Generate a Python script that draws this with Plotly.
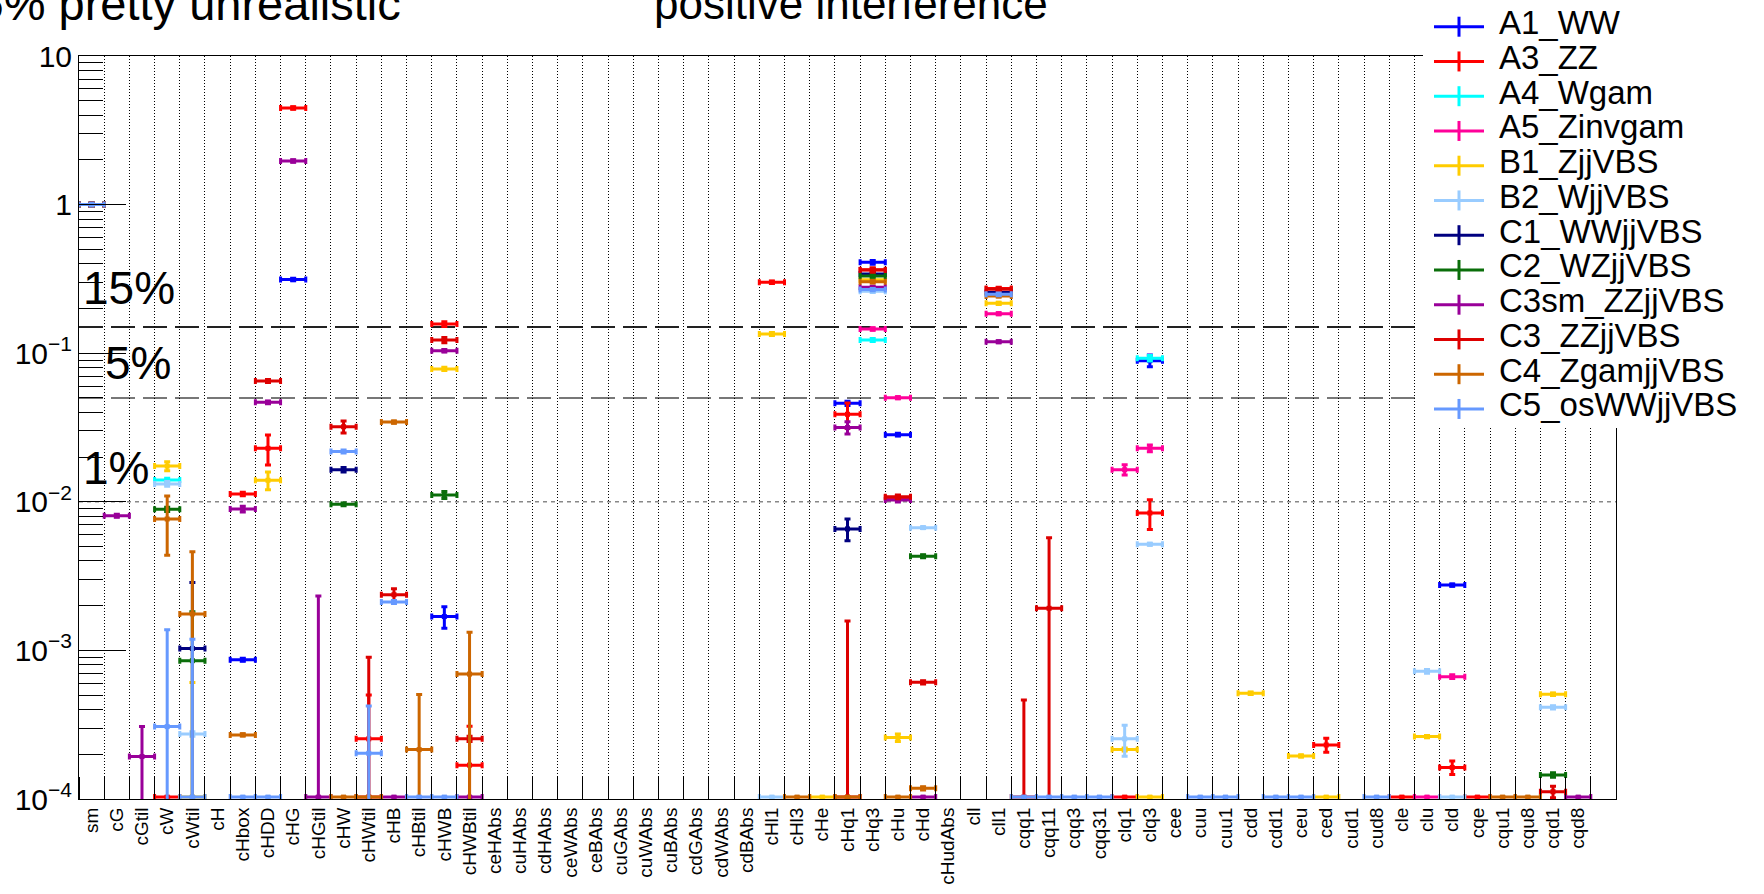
import plotly.graph_objects as go

# ---------------- data ----------------
categories = ["sm", "cG", "cGtil", "cW", "cWtil", "cH", "cHbox", "cHDD", "cHG", "cHGtil",
              "cHW", "cHWtil", "cHB", "cHBtil", "cHWB", "cHWBtil", "ceHAbs", "cuHAbs", "cdHAbs",
              "ceWAbs", "ceBAbs", "cuGAbs", "cuWAbs", "cuBAbs", "cdGAbs", "cdWAbs", "cdBAbs",
              "cHl1", "cHl3", "cHe", "cHq1", "cHq3", "cHu", "cHd", "cHudAbs", "cll", "cll1",
              "cqq1", "cqq11", "cqq3", "cqq31", "clq1", "clq3", "cee", "cuu", "cuu1", "cdd",
              "cdd1", "ceu", "ced", "cud1", "cud8", "cle", "clu", "cld", "cqe", "cqu1", "cqu8",
              "cqd1", "cqd8"]

y_tick_vals = [1e-4, 1e-3, 1e-2, 1e-1, 1, 10]
y_tick_text = ["10<sup>\u22124</sup>", "10<sup>\u22123</sup>", "10<sup>\u22122</sup>",
               "10<sup>\u22121</sup>", "1", "10"]

# value 0 means "zero / below range" (drawn on the lower edge); err is the symmetric y error
A1_WW_cats = ["sm", "cHbox", "cHG", "cHWB", "cHq1", "cHq3", "cHu", "clq3", "cld"]
A1_WW_vals = [1.0, 8.66e-4, 0.313, 1.69e-3, 0.0460, 0.409, 0.0283, 0.0891, 2.75e-3]
A1_WW_errs = [0.02, 2e-5, 0.006, 2.8e-4, 0.0015, 0.012, 0.0006, 0.008, 5e-5]

A3_ZZ_cats = ["sm", "cW", "cHbox", "cHDD", "cHG", "cHWtil", "cHWB", "cHWBtil", "cHl1", "cHq1",
              "cHq3", "cHu", "cll1", "clq1", "clq3", "ced", "cle", "cld", "cqe"]
A3_ZZ_vals = [1.0, 0, 0.01129, 0.0229, 4.47, 2.54e-4, 0.157, 1.69e-4, 0.300, 0.0388,
              0.365, 0.0107, 0.272, 0, 8.41e-3, 2.31e-4, 0, 1.63e-4, 0]
A3_ZZ_errs = [0.02, 0, 3e-4, 0.0052, 0.09, 2.47e-4, 0.006, 1.4e-4, 0.006, 0.0075,
              0.01, 3e-4, 0.006, 0, 1.9e-3, 2.5e-5, 0, 1.7e-5, 0]

A4_Wgam_cats = ["sm", "cW", "cHq3", "clq3"]
A4_Wgam_vals = [1.0, 0.0140, 0.1227, 0.0925]
A4_Wgam_errs = [0.02, 4e-4, 0.003, 0.004]

A5_Zinvgam_cats = ["sm", "cHq3", "cHu", "cll1", "clq1", "clq3", "clu", "cld"]
A5_Zinvgam_vals = [1.0, 0.1456, 0.0502, 0.1845, 0.01644, 0.0229, 0, 6.66e-4]
A5_Zinvgam_errs = [0.02, 0.003, 8e-4, 0.003, 1.3e-3, 1.2e-3, 0, 2e-5]

B1_ZjjVBS_cats = ["sm", "cW", "cWtil", "cHDD", "cHWB", "cHl1", "cHe", "cHq3", "cHu", "cll1",
                  "clq1", "clq3", "cdd", "ceu", "ced", "clu", "cqd1"]
B1_ZjjVBS_vals = [1.0, 0.0174, 0, 0.01396, 0.0784, 0.1346, 0, 0.312, 2.59e-4, 0.2166,
                  2.15e-4, 0, 5.14e-4, 1.95e-4, 0, 2.63e-4, 5.07e-4]
B1_ZjjVBS_errs = [0.02, 1.2e-3, 6.07e-4, 1.9e-3, 0.002, 0.003, 0, 0.005, 1.5e-5, 0.004,
                  5e-6, 0, 1e-5, 3e-6, 0, 5e-6, 1e-5]

B2_WjjVBS_cats = ["sm", "cW", "cWtil", "cHl1", "cHq3", "cHd", "clq1", "clq3", "clu", "cld", "cqd1"]
B2_WjjVBS_vals = [1.0, 0.0132, 2.74e-4, 0, 0.261, 6.70e-3, 2.54e-4, 5.18e-3, 7.23e-4, 0, 4.14e-4]
B2_WjjVBS_errs = [0.02, 5e-4, 1e-5, 0, 0.005, 1e-4, 6e-5, 8e-5, 2e-5, 0, 1e-5]

C1_WWjjVBS_cats = ["sm", "cWtil", "cHW", "cHq1", "cHq3", "cll1"]
C1_WWjjVBS_vals = [1.0, 1.03e-3, 0.01644, 6.57e-3, 0.341, 0.256]
C1_WWjjVBS_errs = [0.02, 1.83e-3, 6e-4, 1.1e-3, 0.006, 0.005]

C2_WZjjVBS_cats = ["sm", "cW", "cWtil", "cHW", "cHWB", "cHq3", "cHd", "cqd1"]
C2_WZjjVBS_vals = [1.0, 8.9e-3, 8.53e-4, 9.62e-3, 0.01112, 0.331, 4.30e-3, 1.45e-4]
C2_WZjjVBS_errs = [0.02, 3e-4, 9.7e-4, 2e-4, 6e-4, 0.006, 1e-4, 5e-6]

C3sm_ZZjjVBS_cats = ["sm", "cG", "cGtil", "cHbox", "cHDD", "cHG", "cHGtil", "cHB", "cHWB",
                     "cHWBtil", "cHq1", "cHq3", "cHu", "cHd", "cll1", "cqd8"]
C3sm_ZZjjVBS_vals = [1.0, 8.06e-3, 1.93e-4, 8.94e-3, 0.0467, 1.966, 0, 0, 0.104,
                     0, 0.0316, 0.2777, 0.01028, 0, 0.1195, 0]
C3sm_ZZjjVBS_errs = [0.02, 2e-4, 1.14e-4, 4e-4, 0.001, 0.04, 2.32e-3, 0, 0.002,
                     0, 0.003, 0.005, 3e-4, 0, 0.002, 0]

C3_ZZjjVBS_cats = ["sm", "cHDD", "cHW", "cHWtil", "cHB", "cHWB", "cHWBtil", "cHq1", "cHq3",
                   "cHu", "cHd", "cll1", "cqq1", "cqq11", "cqd1"]
C3_ZZjjVBS_vals = [1.0, 0.0650, 0.0320, 0, 2.37e-3, 0.1227, 2.54e-4, 0, 0.363,
                   0.0108, 6.10e-4, 0.269, 0, 1.92e-3, 1.12e-4]
C3_ZZjjVBS_errs = [0.02, 0.0015, 0.003, 8.98e-4, 2.3e-4, 0.005, 1e-5, 1.58e-3, 0.012,
                   3e-4, 1.5e-5, 0.006, 4.63e-4, 3.8e-3, 1e-5]

C4_ZgamjjVBS_cats = ["sm", "cW", "cWtil", "cHbox", "cHW", "cHWtil", "cHB", "cHBtil", "cHWBtil",
                     "cHl3", "cHq1", "cHq3", "cHu", "cHd", "cll1", "cqu1", "cqu8"]
C4_ZgamjjVBS_vals = [1.0, 7.66e-3, 1.76e-3, 2.70e-4, 0, 0, 0.0344, 2.15e-4, 6.93e-4,
                     0, 0, 0.303, 0, 1.18e-4, 0.243, 0, 0]
C4_ZgamjjVBS_errs = [0.02, 3.3e-3, 2.85e-3, 5e-6, 0, 0, 6e-4, 2.9e-4, 6.3e-4,
                     0, 0, 0.006, 0, 3e-6, 0.004, 0, 0]

C5_osWWjjVBS_cats = ["sm", "cW", "cWtil", "cHbox", "cHDD", "cHW", "cHWtil", "cHB", "cHBtil",
                     "cHWB", "cHq3", "cll1", "cqq1", "cqq11", "cqq3", "cqq31", "cuu", "cuu1",
                     "cdd1", "ceu", "cud8"]
C5_osWWjjVBS_vals = [1.0, 3.07e-4, 0, 0, 0, 0.0218, 2.03e-4, 2.12e-3, 0,
                     0, 0.268, 0.249, 0, 0, 0, 0, 0, 0, 0, 0, 0]
C5_osWWjjVBS_errs = [0.02, 1.07e-3, 1.19e-3, 0, 0, 5e-4, 2.2e-4, 5e-5, 0,
                     0, 0.005, 0.005, 0, 0, 0, 0, 0, 0, 0, 0, 0]

series = [
    ("A1_WW", "#0000ff", A1_WW_cats, A1_WW_vals, A1_WW_errs),
    ("A3_ZZ", "#ff0000", A3_ZZ_cats, A3_ZZ_vals, A3_ZZ_errs),
    ("A4_Wgam", "#00ffff", A4_Wgam_cats, A4_Wgam_vals, A4_Wgam_errs),
    ("A5_Zinvgam", "#ff0099", A5_Zinvgam_cats, A5_Zinvgam_vals, A5_Zinvgam_errs),
    ("B1_ZjjVBS", "#ffcc00", B1_ZjjVBS_cats, B1_ZjjVBS_vals, B1_ZjjVBS_errs),
    ("B2_WjjVBS", "#99ccff", B2_WjjVBS_cats, B2_WjjVBS_vals, B2_WjjVBS_errs),
    ("C1_WWjjVBS", "#000080", C1_WWjjVBS_cats, C1_WWjjVBS_vals, C1_WWjjVBS_errs),
    ("C2_WZjjVBS", "#0a6e0a", C2_WZjjVBS_cats, C2_WZjjVBS_vals, C2_WZjjVBS_errs),
    ("C3sm_ZZjjVBS", "#990099", C3sm_ZZjjVBS_cats, C3sm_ZZjjVBS_vals, C3sm_ZZjjVBS_errs),
    ("C3_ZZjjVBS", "#dd0000", C3_ZZjjVBS_cats, C3_ZZjjVBS_vals, C3_ZZjjVBS_errs),
    ("C4_ZgamjjVBS", "#cc6600", C4_ZgamjjVBS_cats, C4_ZgamjjVBS_vals, C4_ZgamjjVBS_errs),
    ("C5_osWWjjVBS", "#6699ff", C5_osWWjjVBS_cats, C5_osWWjjVBS_vals, C5_osWWjjVBS_errs),
]

threshold_vals = [0.15, 0.05, 0.01]
threshold_text = ["15%", "5%", "1%"]

# ---------------- layout geometry ----------------
W, H = 1764, 894
L, R, T, B = 79, 148, 56, 95
PW, PH = W - L - R, H - T - B
FLOOR = 1.03e-4          # where zero / out-of-range values are drawn (bottom edge)
FONT = "Liberation Sans, Arial, Helvetica, sans-serif"


def px2x(px):
    return (px - L) / PW


def py2y(py):
    return (H - B - py) / PH


fig = go.Figure()
cat_index = {c: i for i, c in enumerate(categories)}

for name, color, cats, vals, errs in series:
    xs, ys, ep, em = [], [], [], []
    for c, v, e in zip(cats, vals, errs):
        xs.append(cat_index[c] + 0.5)
        if v > 0:
            ys.append(v)
            ep.append(e)
            em.append(e)
        else:
            ys.append(FLOOR)
            ep.append(max(e - FLOOR, 0))
            em.append(0)
    fig.add_trace(go.Scatter(
        x=xs, y=ys, mode="markers", name=name, showlegend=False,
        marker=dict(symbol="square", size=5, color=color),
        error_x=dict(type="constant", value=0.5, color=color, thickness=3, width=3),
        error_y=dict(type="data", array=ep, arrayminus=em, symmetric=False,
                     color=color, thickness=3, width=3),
    ))

shapes = []
# threshold lines
line_styles = [dict(color="#222222", width=2, dash="24px,8px"),
               dict(color="#777777", width=2, dash="24px,8px"),
               dict(color="#888888", width=1.5, dash="4px,4px")]
for v, st in zip(threshold_vals, line_styles):
    shapes.append(dict(type="line", xref="paper", yref="y", x0=0, x1=1, y0=v, y1=v,
                       line=st, layer="below"))

annotations = []
text_pos = [(81, 288), (103, 362.5), (81, 467.5)]
for t, (px, py) in zip(threshold_text, text_pos):
    annotations.append(dict(text=t, xref="paper", yref="paper", x=px2x(px), y=py2y(py),
                            xanchor="left", yanchor="middle", showarrow=False,
                            font=dict(size=46, color="black", family=FONT)))

# titles partly cut at the top of the canvas
annotations.append(dict(text=">15% pretty unrealistic", xref="paper", yref="paper",
                        x=px2x(403), y=py2y(4), xanchor="right", yanchor="middle",
                        showarrow=False, font=dict(size=47, color="black", family=FONT)))
annotations.append(dict(text="positive interference", xref="paper", yref="paper",
                        x=px2x(652), y=py2y(4), xanchor="left", yanchor="middle",
                        showarrow=False, font=dict(size=44, color="black", family=FONT)))

# legend box (white, covering the top-right of the frame)
shapes.append(dict(type="rect", xref="paper", yref="paper", x0=px2x(1423), x1=px2x(W + 5),
                   y0=py2y(428), y1=py2y(-5), fillcolor="white",
                   line=dict(width=0), layer="above"))
for i, (name, color, *_rest) in enumerate(series):
    cy = 26.7 + 34.75 * i
    shapes.append(dict(type="line", xref="paper", yref="paper", x0=px2x(1434), x1=px2x(1484),
                       y0=py2y(cy), y1=py2y(cy), line=dict(color=color, width=3), layer="above"))
    shapes.append(dict(type="line", xref="paper", yref="paper", x0=px2x(1459), x1=px2x(1459),
                       y0=py2y(cy - 10), y1=py2y(cy + 10), line=dict(color=color, width=3),
                       layer="above"))
    annotations.append(dict(text=name, xref="paper", yref="paper", x=px2x(1497),
                            y=py2y(cy - 4), xanchor="left", yanchor="middle", showarrow=False,
                            font=dict(size=33, color="black", family=FONT)))

fig.update_layout(
    width=W, height=H,
    margin=dict(l=L, r=R, t=T, b=B, pad=0, autoexpand=False),
    paper_bgcolor="white", plot_bgcolor="white",
    showlegend=False,
    shapes=shapes, annotations=annotations,
    font=dict(family=FONT, color="black"),
    xaxis=dict(
        range=[0, len(categories) + 1], tickmode="array", automargin=False,
        tickvals=[i + 0.5 for i in range(len(categories))], ticktext=categories,
        tickangle=-90, ticks="", showgrid=False, zeroline=False,
        showline=True, mirror=True, linecolor="black", linewidth=1,
        tickfont=dict(size=19, color="black", family=FONT),
        minor=dict(tickmode="linear", tick0=0, dtick=1, ticks="inside", ticklen=22,
                   tickcolor="black", tickwidth=1, showgrid=True, gridcolor="black",
                   griddash="1px,2px", gridwidth=1),
    ),
    yaxis=dict(
        type="log", range=[-4, 1], tickmode="array", tickvals=y_tick_vals, automargin=False,
        ticktext=y_tick_text, ticks="inside", ticklen=47, tickcolor="black", tickwidth=1,
        showgrid=False, zeroline=False, showline=True, mirror=True, linecolor="black",
        linewidth=1, tickfont=dict(size=30, color="black", family=FONT),
        minor=dict(ticks="inside", ticklen=24, dtick="D1", tickcolor="black", tickwidth=1,
                   showgrid=False),
    ),
)

fig.write_html("out.html", config={"displayModeBar": False},
               post_script="document.body.style.margin='0px';"
                           "document.body.style.overflow='hidden';")
